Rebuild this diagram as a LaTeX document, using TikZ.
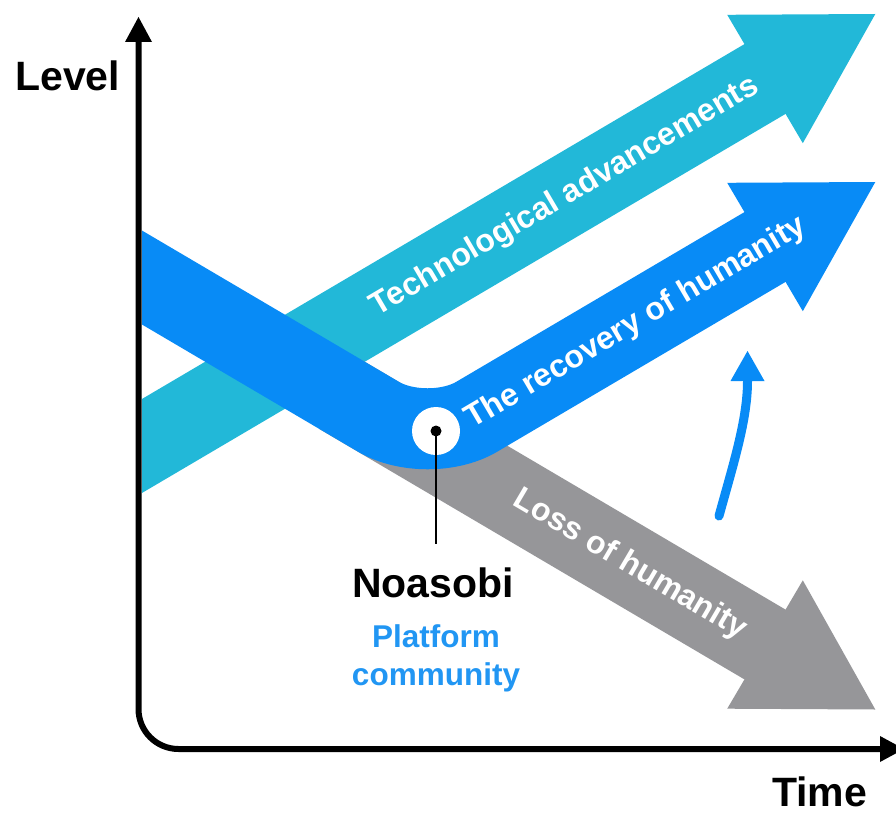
\documentclass[tikz,border=0pt]{standalone}
\usepackage{fontspec}
\setmainfont{Liberation Sans}
\definecolor{techteal}{RGB}{34,184,216}
\definecolor{humanblue}{RGB}{8,139,246}
\definecolor{lossgrey}{RGB}{150,150,153}
\definecolor{labelblue}{RGB}{33,150,243}
\tikzset{
  band/.style={line width=81pt, line cap=butt},
  bandtext/.style={text=white, font=\fontsize{32}{38}\selectfont\bfseries, inner sep=0pt},
  axislabel/.style={font=\fontsize{41}{48}\selectfont\bfseries, inner sep=0pt},
  sublabel/.style={text=labelblue, font=\fontsize{31.5}{38}\selectfont\bfseries, inner sep=0pt}
}
\begin{document}
\begin{tikzpicture}[x=1pt,y=-1pt]
\useasboundingbox (0,0) rectangle (896,813);
\clip (0,0) rectangle (896,813);

% the three trend bands, cut off at the vertical axis
\begin{scope}
  \clip (142,0) rectangle (896,813);
  % technological advancements
  \draw[band, techteal] (100,470.7) -- (766.7,78);
  \fill[techteal] (727.2,14.8) -- (875.3,14) -- (802.8,143.2) -- cycle;
  % loss of humanity
  \draw[band, lossgrey] (340,394.2) -- (766.7,645.5);
  \fill[lossgrey] (802.8,580.3) -- (875.3,709.5) -- (727.2,708.7) -- cycle;
  % recovery of humanity
  \draw[band, humanblue, rounded corners=57pt] (100,252.8) -- (427.6,445.7) -- (766.7,246);
  \fill[humanblue] (727.2,182.8) -- (875.3,182) -- (802.8,311.2) -- cycle;
\end{scope}

% band labels
\node[bandtext, rotate=30.5] (tech) at (565,196.8) {Technological advancements};
\node[bandtext, rotate=30.5] (recovery) at (636,323) {The recovery of humanity};
\node[bandtext, rotate=-30.5] (loss) at (630,565) {Loss of humanity};

% turning point
\node[circle, fill=white, minimum size=48pt, inner sep=0pt] (hub) at (436,431) {};
\fill (hub.center) circle (5.5pt);
\coordinate (lineend) at (436,544);
\draw[line width=1.2pt] (hub.center) -- (lineend);
\node[axislabel, anchor=base] (noasobi) at (433,597) {Noasobi};
\node[sublabel, anchor=base] (platform) at (436,647) {Platform};
\node[sublabel, anchor=base] (community) at (436,685) {community};

% small upward arrow
\coordinate (riseA) at (719,516);
\coordinate (riseB) at (747.5,381);
\draw[humanblue, line width=9pt, line cap=round] (riseA) .. controls (733,465) and (747.5,420) .. (riseB);
\fill[humanblue] (730.5,381) -- (764.5,381) -- (747.5,351) -- cycle;

% axes
\draw[line width=6pt, rounded corners=40pt] (138.5,40) -- (138.5,749) -- (882,749);
\fill (125,42) -- (152,42) -- (138.5,17) -- cycle;
\fill (880,736) -- (880,762) -- (904,749) -- cycle;
\node[axislabel, anchor=base west] (level) at (15,91) {Level};
\node[axislabel, anchor=base west] (time) at (772,806) {Time};
\end{tikzpicture}
\end{document}
